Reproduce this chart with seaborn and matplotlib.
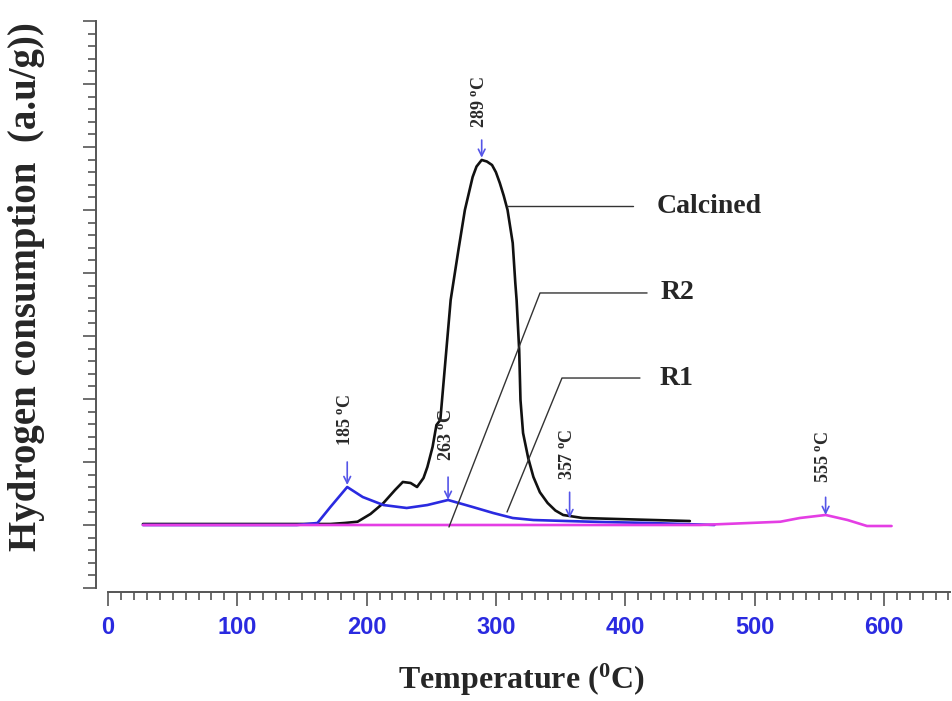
import matplotlib
matplotlib.use("Agg")
import matplotlib.pyplot as plt
import seaborn as sns
import pandas as pd
from matplotlib.ticker import MultipleLocator

sns.set_style("white")
plt.rcParams['font.family'] = ['Liberation Serif', 'DejaVu Serif']
plt.rcParams['mathtext.fontset'] = 'custom'
plt.rcParams['mathtext.rm'] = 'Liberation Serif:bold'
plt.rcParams['mathtext.bf'] = 'Liberation Serif:bold'
plt.rcParams['mathtext.it'] = 'Liberation Serif:bold'

# ---- data (temperature in deg C, hydrogen consumption in a.u.) ----
calcined_T = [27, 149, 172, 183, 193, 203, 213, 222, 228, 234, 239, 244, 247, 251,
              254, 257, 261, 265, 271, 276, 282, 285, 289, 293, 297, 300, 303, 306,
              309, 313, 315, 316, 318, 319, 321, 325, 329, 334, 340, 346, 352, 367,
              394, 450]
calcined_H = [0.016, 0.016, 0.016, 0.032, 0.052, 0.175, 0.349, 0.556, 0.683, 0.667,
              0.603, 0.746, 0.921, 1.238, 1.587, 1.667, 2.619, 3.571, 4.365, 5.0,
              5.524, 5.69, 5.794, 5.77, 5.714, 5.60, 5.429, 5.23, 5.0, 4.476, 3.841,
              3.571, 2.778, 1.984, 1.46, 1.06, 0.762, 0.52, 0.349, 0.23, 0.159,
              0.111, 0.095, 0.063]

r2_T = [27, 146, 162, 172, 185, 197, 213, 231, 247, 263, 282, 298, 313, 329,
        355, 381, 419, 469]
r2_H = [0.0, 0.0, 0.032, 0.286, 0.603, 0.444, 0.317, 0.27, 0.317, 0.397, 0.286,
        0.19, 0.111, 0.079, 0.063, 0.048, 0.032, 0.0]

r1_T = [27, 458, 520, 535, 555, 572, 587, 606]
r1_H = [0.0, 0.0, 0.052, 0.111, 0.159, 0.079, -0.016, -0.016]

peak_labels = ["185", "263", "289", "357", "555"]
peak_T = [185, 263, 289, 357, 555]
peak_tip = [0.635, 0.40, 5.83, 0.11, 0.16]
peak_tail = [1.0, 0.76, 6.11, 0.52, 0.44]
peak_text_y = [1.67, 1.43, 6.71, 1.13, 1.08]

x_ticks = [0, 100, 200, 300, 400, 500, 600]

# ---- figure ----
fig = plt.figure(figsize=(9.52, 7.01), dpi=100)
ax = fig.add_axes([96/952, 1-588/701, 854/952, 567/701])

blue = '#2a2ae0'
magenta = '#e43ee4'
sns.lineplot(x=calcined_T, y=calcined_H, ax=ax, color='#111111', lw=1.9,
             sort=False, estimator=None)
sns.lineplot(x=r2_T, y=r2_H, ax=ax, color=blue, lw=1.9, sort=False, estimator=None)
sns.lineplot(x=r1_T, y=r1_H, ax=ax, color=magenta, lw=1.9, sort=False, estimator=None)

ax.set_xlim(-9.3, 651.2)
ax.set_ylim(-1.0, 8.0)

# annotations of peaks
for lab, t, tip, tail, ty in zip(peak_labels, peak_T, peak_tip, peak_tail, peak_text_y):
    ax.annotate('', xy=(t, tip), xytext=(t, tail),
                arrowprops=dict(arrowstyle='->', color='#5555e8', lw=1.2,
                                mutation_scale=12, shrinkA=0, shrinkB=0))
    ax.text(t - 1.5, ty, lab + r' $^{\mathbf{o}}$C', rotation=90, ha='center',
            va='center', fontsize=13, fontweight='bold', color='#2a2a2a')

# leader lines and series labels
lead = dict(color='#333333', lw=1.0)
ax.plot([308.3, 406.0], [5.063, 5.063], **lead)
ax.plot([263.7, 334.1, 416.9], [-0.032, 3.683, 3.683], **lead)
ax.plot([308.6, 351.1, 411.4], [0.206, 2.333, 2.333], **lead)
ax.text(424.6, 5.063, 'Calcined', fontsize=20, fontweight='bold', va='center', ha='left')
ax.text(427.5, 3.683, 'R2', fontsize=20, fontweight='bold', va='center', ha='left')
ax.text(426.5, 2.333, 'R1', fontsize=20, fontweight='bold', va='center', ha='left')

# axes styling
for s in ['top', 'right']:
    ax.spines[s].set_visible(False)
for s in ['left', 'bottom']:
    ax.spines[s].set_color('#555555')
    ax.spines[s].set_linewidth(1.4)
ax.spines['bottom'].set_bounds(0, 651.2)
ax.spines['bottom'].set_position(('outward', 3))

ax.set_xticks(x_ticks)
ax.set_xticklabels([str(v) for v in x_ticks], fontsize=17, fontweight='bold',
                   color=blue, family='Liberation Sans')
ax.xaxis.set_minor_locator(MultipleLocator(10))
ax.yaxis.set_major_locator(MultipleLocator(1))
ax.yaxis.set_minor_locator(MultipleLocator(0.2))
ax.tick_params(axis='x', which='major', direction='out', length=10, width=1.2,
               color='#555555', pad=7, bottom=True)
ax.tick_params(axis='x', which='minor', direction='out', length=6, width=1.2,
               color='#555555', bottom=True)
ax.tick_params(axis='y', which='major', direction='out', length=9.5, width=1.2,
               color='#555555', left=True, labelleft=False)
ax.tick_params(axis='y', which='minor', direction='out', length=5.8, width=1.2,
               color='#555555', left=True)
ax.set_xlabel('')
ax.set_ylabel('')

fig.text(521/952, 1-680/701, r'Temperature ($^{\mathbf{0}}$C)', fontsize=23,
         fontweight='bold', ha='center', va='center')
fig.text(27/952, 1-287/701, 'Hydrogen consumption  (a.u/g))', fontsize=28,
         fontweight='bold', ha='center', va='center', rotation=90)

fig.savefig('out.png', dpi=100)
